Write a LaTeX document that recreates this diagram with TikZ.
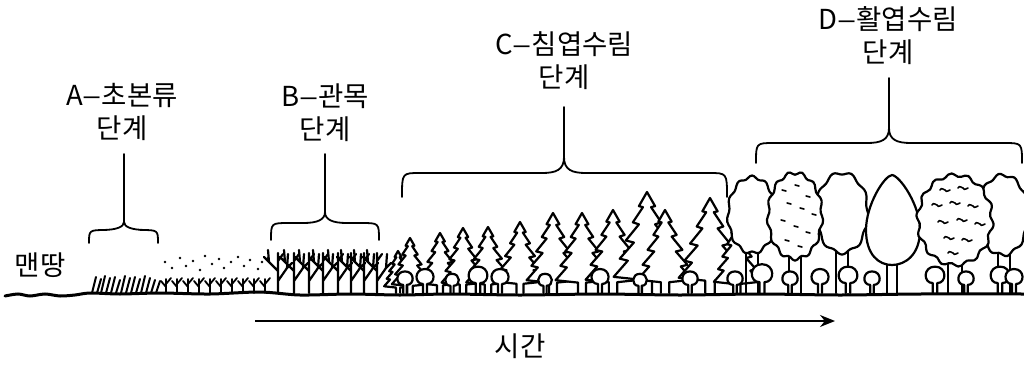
\documentclass[tikz,border=0pt]{standalone}
\usepackage{fontspec}
\setmainfont{Noto Sans CJK KR}
\usetikzlibrary{arrows.meta}
\newcommand\ldash{\scalebox{1.3}[1]{–}}
\tikzset{
  lbl/.style={font=\fontsize{27.5}{33}\selectfont, align=center, inner sep=0pt},
  bracestem/.style={line width=1.8pt, line cap=round, line join=round},
  plant/.style={line width=2.2pt, line cap=round, line join=round},
  speck/.style={line width=1.6pt, line cap=round},
  pics/conifer/.style={code={
    \draw[plant, fill=white] (-5,0) -- (-5,-13) -- (-33,-16) -- (-19,-32) -- (-27,-34) -- (-13,-50) -- (-21,-52) -- (-8,-68) -- (-14,-70) -- (-4,-85) -- (-8,-86) -- (0,-100) -- (8,-86) -- (4,-85) -- (14,-70) -- (8,-68) -- (21,-52) -- (13,-50) -- (27,-34) -- (19,-32) -- (33,-16) -- (5,-13) -- (5,0);
  }},
  pics/bush/.style={code={
    \draw[plant, fill=white] (-2,0) -- (-2,-9) .. controls (-11,-9) and (-11,-24) .. (0,-24) .. controls (11,-24) and (11,-9) .. (2,-9) -- (2,0);
  }},
  pics/seedling/.style={code={
    \draw[plant, line width=1.8pt] (0,0) -- (0,-14) (0,-6) -- (-5,-12) (0,-9) -- (5,-15);
  }},
  pics/shrub/.style={code={
    \draw[plant] (0,0) -- (0,-40) (0,-22) -- (-9,-31) -- (-10,-43) (-9,-31) -- (-14,-36) (0,-12) -- (9,-25) -- (10,-39) (9,-25) -- (14,-30) (0,-32) -- (5,-39);
  }}
}
\newcommand\stagebrace[7]{% cx, stemtop, curl, arm, left, right, end
  \draw[bracestem] (#1,#2) -- (#1,#3);
  \draw[bracestem] (#5,#7) .. controls (#5,#4) and (#5,#4) .. ({#5+18},#4) -- ({#1-22},#4) .. controls ({#1-8},#4) and (#1,{#4-3}) .. (#1,#3);
  \draw[bracestem] (#6,#7) .. controls (#6,#4) and (#6,#4) .. ({#6-18},#4) -- ({#1+22},#4) .. controls ({#1+8},#4) and (#1,{#4-3}) .. (#1,#3);
}
\newcommand\broadtree[5]{% cx, cy, rx, ry, lobes
  \draw[plant, fill=white] plot[smooth cycle, variable=\t, samples=72, domain=0:355]
    ({#1+#3*(1+0.05*sin(#5*\t))*cos(\t)}, {#2+#4*(1+0.04*sin(#5*\t))*sin(\t)});
}
\begin{document}
\begin{tikzpicture}[x=1pt,y=-1pt]

% labels
\node[lbl] (la) at (122,112) {A\ldash 초본류\\단계};
\node[lbl] (lb) at (325,113) {B\ldash 관목\\단계};
\node[lbl] (lc) at (564,61) {C\ldash 침엽수림\\단계};
\node[lbl] (ld) at (888,36) {D\ldash 활엽수림\\단계};
\node[lbl] (bare) at (40,265) {맨땅};
\node[lbl] (time) at (520,346) {시간};

% braces
\stagebrace{124}{154}{222}{230}{89}{158}{243}
\stagebrace{325}{154}{212}{223}{271}{379}{240}
\stagebrace{564}{107}{157}{173}{402}{727}{197}
\stagebrace{889}{78}{128}{143}{756}{1022}{163}

% grass
\foreach \x/\h in {92/16,97/14,101/17,106/15,111/16,116/13,121/17,126/15,131/16,136/14,141/17,146/15,151/13,156/12}
  \draw[plant, line width=2pt] (\x,293) -- ++(4,-\h);

% seedlings
\foreach \x in {166,177,188,199,210,221,232,243,254,265}
  \pic at (\x,293) {seedling};
\foreach \p in {(165,262),(172,268),(180,258),(186,266),(193,261),(200,270),(205,256),(212,264),(219,259),(224,268),(231,262),(238,257),(244,266),(250,260),(258,269),(262,262),(268,258)}
  \fill \p circle (1.3pt);

% shrubs
\foreach \x in {278,294,309,323,338,351,364,377}
  \pic at (\x,293) {shrub};

% conifers
\foreach \x/\s in {398/0.42,410/0.55,440/0.60,463/0.65,488/0.66,520/0.71,553/0.80,582/0.80,613/0.83,647/1.01,665/0.83,710/0.95,737/0.70}
  \pic[scale=\s] at (\x,293) {conifer};

% broadleaf trees
\foreach \x/\t in {746/250,758/250,789/256,801/256,836/250,848/250,887/262,897/262,948/262,962/262,998/252,1010/252}
  \draw[plant] (\x,\t) -- (\x,293);
\broadtree{752}{215}{24}{38}{11}
\broadtree{842}{213}{26}{40}{9}
\broadtree{795}{216}{27}{43}{13}
\draw[plant, fill=white] (892,175) .. controls (900,176) and (920,205) .. (920,230) .. controls (920,255) and (905,265) .. (892,265) .. controls (879,265) and (866,255) .. (866,230) .. controls (866,205) and (884,176) .. (892,175) -- cycle;
\broadtree{1003}{215}{25}{40}{10}
\broadtree{955}{220}{37}{45}{14}
\foreach \p in {(782,190),(795,185),(806,196),(787,203),(800,208),(812,214),(781,220),(794,226),(806,232),(785,240),(798,246)}
  \draw[speck] \p -- ++(4,1);
\foreach \p in {(940,190),(958,188),(932,205),(950,203),(968,206),(938,222),(957,220),(975,224),(944,238),(962,240),(948,253)}
  \draw[speck] \p .. controls ++(2,-3) and ++(-2,0) .. ++(5,0) .. controls ++(2,3) and ++(-2,0) .. ++(5,0);

% small bushes in front
\foreach \x/\s in {405/0.9,425/1.0,452/0.8,478/1.1,500/1.0,545/0.8,600/1.0,640/0.8,690/0.9,735/0.9,762/1.2,790/0.9,820/1.0,848/1.1,872/0.9,935/1.1,966/0.9,1000/1.1,1014/1.0}
  \pic[scale=\s] at (\x,293) {bush};

% ground
\draw[line width=3pt, line cap=round] plot[smooth] coordinates {(5,296) (18,294) (30,296) (45,294) (60,296) (75,295) (90,293) (120,294) (160,293) (210,294) (260,292) (300,295) (350,294) (400,295) (450,294) (520,295) (600,294) (680,295) (760,294) (840,295) (920,294) (1024,294)};

% time arrow
\coordinate (t0) at (255,321);
\coordinate (t1) at (835,321);
\draw[line width=1.8pt, -{Stealth[length=15pt,width=12pt]}] (t0) -- (t1);

% fix the page to the reference frame
\pgfresetboundingbox
\path[use as bounding box] (0,0) rectangle (1024,364);
\end{tikzpicture}
\end{document}
